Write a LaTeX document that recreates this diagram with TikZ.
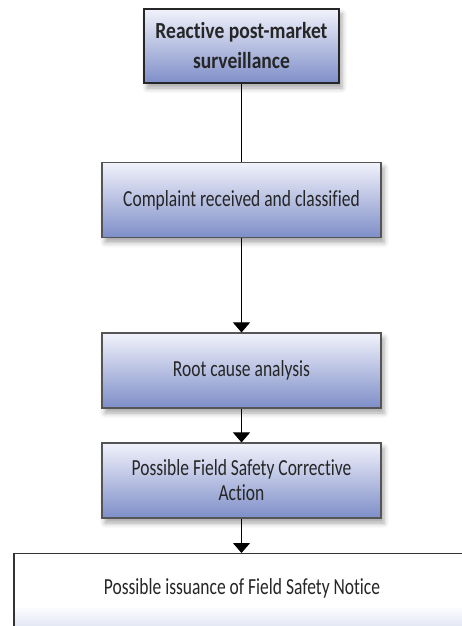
\documentclass[tikz,border=0pt]{standalone}
\usepackage{fontspec}
\setmainfont[FakeStretch=0.76, Ligatures=NoCommon, BoldFeatures={FakeStretch=0.85}]{Carlito}
\usetikzlibrary{arrows.meta,shadows.blur}
\definecolor{boxtop}{HTML}{F1F2FB}
\definecolor{boxbot}{HTML}{7E8EC8}
\definecolor{txt}{HTML}{262626}
\definecolor{edge}{HTML}{555555}
\definecolor{fadeblue}{HTML}{CCD3EE}
\pgfdeclareverticalshading{finalshade}{100bp}{color(0bp)=(fadeblue); color(25bp)=(fadeblue); color(46bp)=(white); color(100bp)=(white)}
\begin{document}
\begin{tikzpicture}[x=1pt,y=-1pt,
  stepbox/.style={rectangle, draw=edge, line width=1.1pt, top color=boxtop, bottom color=boxbot,
    minimum width=279pt, minimum height=75pt, inner sep=0pt, align=center, text=txt,
    font=\fontsize{23}{25}\selectfont,
    blur shadow={shadow xshift=3pt, shadow yshift=-5pt, shadow blur radius=5pt, shadow opacity=35}},
  headbox/.style={stepbox, draw=black!85, minimum width=195pt, minimum height=74pt, font=\fontsize{23}{30}\selectfont\bfseries},
  link/.style={line width=1pt, black},
  flow/.style={link, -{Triangle[width=17pt,length=10pt]}}]
\useasboundingbox (0,0) rectangle (462,626);
\begin{scope}
\clip (0,0) rectangle (462,626);
% final box, running off the page
\node[rectangle, draw=black!80, line width=1.1pt, shading=finalshade, minimum width=456pt, minimum height=90pt, inner sep=0pt, anchor=north] (n5) at (242,553) {};
\node[text=txt, font=\fontsize{23}{25}\selectfont] (n5t) at (242,588) {Possible issuance of Field Safety Notice};
\end{scope}
\node[headbox] (n1) at (241.5,46) {Reactive post-market\\surveillance};
\node[stepbox] (n2) at (241.5,200) {Complaint received and classified};
\node[stepbox] (n3) at (241.5,370.5) {Root cause analysis};
\node[stepbox] (n4) at (241.5,480.5) {Possible Field Safety Corrective\\Action};
\draw[link] (n1.south) -- (n2.north);
\draw[flow] (n2.south) -- (n3.north);
\draw[flow] (n3.south) -- (n4.north);
\draw[flow] (n4.south) -- (n4.south |- n5.north);
\end{tikzpicture}
\end{document}
